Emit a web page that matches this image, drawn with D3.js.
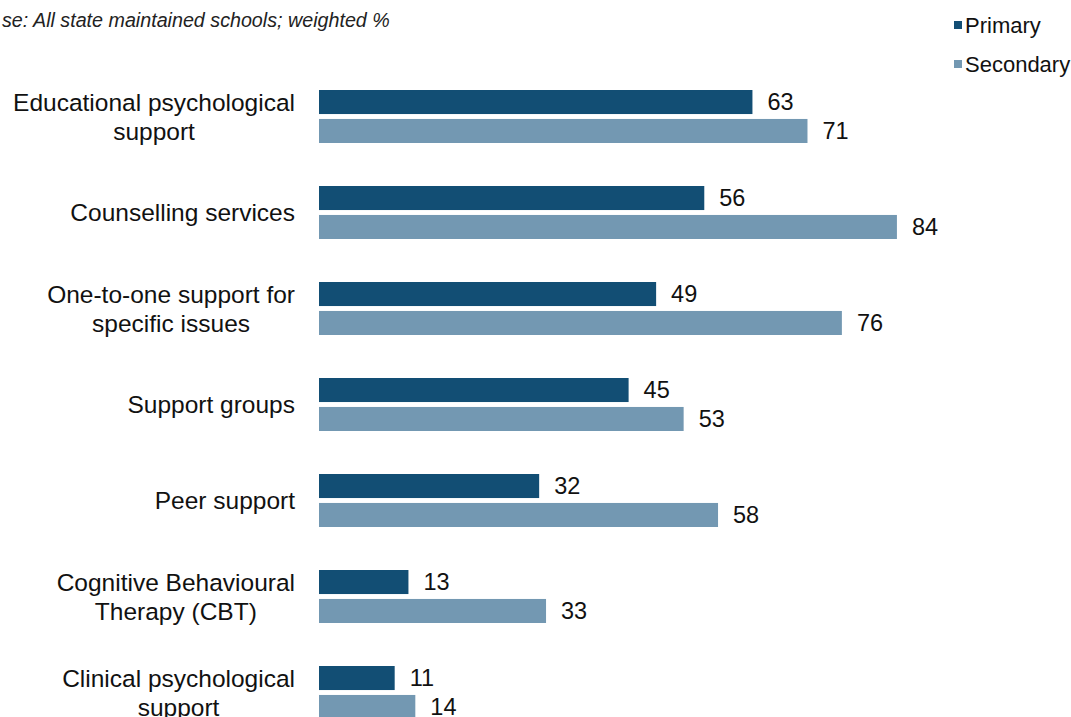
<!DOCTYPE html>
<html><head><meta charset="utf-8">
<script src="https://cdn.jsdelivr.net/npm/d3@7"></script>
<style>body{margin:0;background:#fff}svg{display:block}</style>
</head><body>
<svg id="c" width="1071" height="717"></svg>
<script>
const categories = [
  ["Educational psychological", "support"],
  ["Counselling services"],
  ["One-to-one support for", "specific issues"],
  ["Support groups"],
  ["Peer support"],
  ["Cognitive Behavioural", "Therapy (CBT)"],
  ["Clinical psychological", "support"]
];
const seriesNames = ["Primary", "Secondary"];
const primary = [63, 56, 49, 45, 32, 13, 11];
const secondary = [71, 84, 76, 53, 58, 33, 14];
const baseText = "se: All state maintained schools; weighted %";
const colors = ["#124e74", "#7398b2"];

const svg = d3.select("#c");
const font = "Liberation Sans, Arial, sans-serif";

const x = d3.scaleLinear().domain([0, 100]).range([319, 1007]);
const y0 = d3.scaleBand().domain(d3.range(categories.length)).range([73, 745]).paddingInner(0).paddingOuter(0);
const y1 = d3.scaleBand().domain([0, 1]).range([0, 53]).paddingInner(0.17);

// header
svg.append("text").attr("x", 2).attr("y", 27).attr("font-family", font)
  .attr("font-size", 19.7).attr("font-style", "italic").attr("fill", "#222").text(baseText);

// legend
const leg = svg.append("g");
seriesNames.forEach((n, i) => {
  const yy = 25 + i * 39;
  leg.append("rect").attr("x", 954).attr("y", yy - 4).attr("width", 8).attr("height", 8).attr("fill", colors[i]);
  leg.append("text").attr("x", 965).attr("y", yy).attr("dy", "0.35em").attr("font-family", font)
    .attr("font-size", 22).attr("fill", "#111").text(n);
});

const data = [primary, secondary];
const groups = svg.selectAll("g.grp").data(categories).join("g").attr("class", "grp")
  .attr("transform", (d, i) => `translate(0,${y0(i) + 17})`);

data.forEach((arr, s) => {
  groups.append("rect")
    .attr("x", x(0)).attr("y", y1(s)).attr("height", y1.bandwidth())
    .attr("width", (d, i) => x(arr[i]) - x(0)).attr("fill", colors[s]);
  groups.append("text")
    .attr("x", (d, i) => x(arr[i]) + 15).attr("y", y1(s) + y1.bandwidth() / 2).attr("dy", "0.36em")
    .attr("font-family", font).attr("font-size", 23.5).attr("fill", "#111")
    .text((d, i) => arr[i]);
});

// category labels: right-aligned block, lines centered within block
groups.each(function(lines) {
  const g = d3.select(this);
  const t = g.append("text").attr("font-family", font).attr("font-size", 24.5).attr("fill", "#111")
    .attr("text-anchor", "middle");
  const n = lines.length;
  const mid = 26.5;
  const lh = 29;
  lines.forEach((l, k) => {
    t.append("tspan").attr("y", mid + (k - (n - 1) / 2) * lh).attr("dy", "0.36em").text(l);
  });
  let maxW = 0;
  t.selectAll("tspan").each(function() { maxW = Math.max(maxW, this.getComputedTextLength()); });
  t.selectAll("tspan").attr("x", 295 - maxW / 2);
});
</script>
</body></html>
